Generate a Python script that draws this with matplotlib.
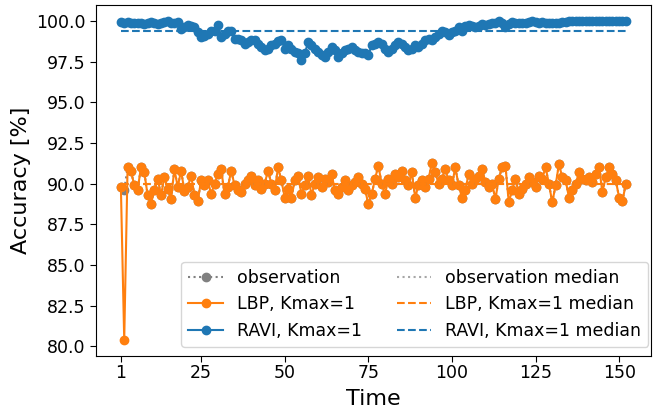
import numpy as np
import matplotlib
matplotlib.use("Agg")
import matplotlib.pyplot as plt

ravi = [99.95, 99.9, 99.95, 99.9, 99.85, 99.9, 99.85, 99.8, 99.9, 99.95, 99.85, 99.8, 99.85, 99.95, 100.0, 99.9, 99.85, 99.95, 99.5, 99.6,
        99.75, 99.7, 99.6, 99.3, 99.0, 99.1, 99.2, 99.35, 99.4, 99.75, 99.0, 99.2, 99.4, 99.4, 98.9, 98.9, 98.8, 98.6, 98.7, 98.85,
        98.8, 98.6, 98.4, 98.2, 98.3, 98.5, 98.6, 98.75, 98.8, 98.3, 98.5, 98.3, 98.1, 98.0, 97.6, 98.0, 98.7, 98.5, 98.3, 98.1,
        97.9, 97.8, 98.1, 98.4, 98.2, 97.8, 98.0, 98.2, 98.3, 98.4, 98.2, 98.1, 98.0, 98.0, 97.9, 98.5, 98.6, 98.7, 98.6, 98.3,
        98.1, 98.3, 98.5, 98.7, 98.6, 98.4, 98.2, 98.3, 98.5, 98.4, 98.6, 98.8, 98.9, 98.85, 99.0, 99.2, 99.4, 99.3, 99.15, 99.3,
        99.35, 99.65, 99.4, 99.7, 99.75, 99.7, 99.65, 99.7, 99.8, 99.75, 99.8, 99.85, 99.9, 100.0, 99.85, 99.65, 99.8, 99.95, 99.9, 99.85,
        99.85, 99.9, 99.95, 100.0, 99.95, 99.9, 99.95, 99.9, 99.85, 99.85, 99.85, 99.9, 99.95, 99.95, 100.0, 100.0, 100.0, 100.0, 100.0, 100.0,
        100.0, 100.0, 100.0, 100.0, 100.0, 100.0, 100.0, 100.0, 100.0, 100.0, 100.0, 100.0]

lbp = [89.8, 80.4, 91.0, 90.8, 89.9, 89.6, 91.0, 90.7, 89.3, 88.75,
       89.6, 90.3, 89.3, 90.4, 89.7, 89.05, 90.9, 89.8, 90.8, 89.55,
       89.8, 90.5, 89.3, 88.95, 90.2, 89.9, 90.2, 89.35, 90.0, 90.6,
       90.9, 89.35, 89.8, 90.8, 89.9, 89.6, 89.5, 90.0, 90.2, 90.5,
       89.9, 90.2, 89.7, 90.0, 90.8, 90.0, 89.6, 91.0, 90.2, 89.15,
       89.7, 89.15, 90.2, 90.5, 89.35, 89.9, 90.5, 89.3, 90.0, 90.4,
       89.8, 90.3, 90.1, 90.6, 89.6, 89.35, 89.8, 90.2, 89.6, 89.9,
       90.1, 90.4, 90.0, 89.67, 88.75, 89.35, 90.3, 91.1, 90.0, 89.35,
       90.3, 90.0, 90.6, 90.4, 90.8, 90.2, 89.9, 90.7, 89.15, 89.9,
       90.2, 89.8, 90.3, 91.25, 90.7, 90.0, 90.3, 90.9, 90.2, 89.9,
       91.0, 89.9, 89.15, 89.6, 90.6, 90.0, 90.3, 90.5, 90.9, 90.1,
       89.8, 90.0, 89.05, 90.3, 91.0, 91.1, 88.85, 89.6, 90.3, 89.35,
       89.7, 90.0, 90.4, 90.1, 89.8, 90.5, 90.3, 91.0, 90.0, 88.85,
       89.9, 91.2, 90.4, 90.2, 89.15, 89.6, 90.0, 90.7, 90.3, 90.2,
       90.4, 90.1, 90.6, 91.0, 89.5, 90.4, 91.0, 90.6, 90.2, 89.15,
       88.95, 90.0]

observation = list(lbp)
observation[1] = 89.6

time = np.arange(1, len(lbp) + 1)
xticks = [1, 25, 50, 75, 100, 125, 150]

plt.rcParams.update({
    "font.size": 12.5,
    "xtick.major.size": 4.3,
    "ytick.major.size": 4.3,
    "xtick.major.pad": 1.2,
    "ytick.major.pad": 2.8,
})

fig = plt.figure(figsize=(6.55, 4.11), dpi=100)
ax = fig.add_axes([0.146, 0.134, 0.848, 0.854])

blue = "#1f77b4"
orange = "#ff7f0e"
gray = "gray"

ax.plot(time, observation, color=gray, linestyle=":", marker="o", markersize=6, label="observation")
ax.plot(time, lbp, color=orange, marker="o", markersize=6, label="LBP, Kmax=1")
ax.plot(time, ravi, color=blue, marker="o", markersize=6, label="RAVI, Kmax=1")

ends = [time[0], time[-1]]
ax.plot(ends, [np.median(observation)] * 2, color="gray", linestyle=":", alpha=0.7, label="observation median")
ax.plot(ends, [np.median(lbp)] * 2, color=orange, linestyle="--", label="LBP, Kmax=1 median")
ax.plot(ends, [np.median(ravi)] * 2, color=blue, linestyle="--", label="RAVI, Kmax=1 median")

ax.set_xticks(xticks)
ax.set_xlabel("Time", fontsize=16, labelpad=5)
ax.set_ylabel("Accuracy [%]", fontsize=16, labelpad=4)
ax.legend(ncol=2, loc="lower right", bbox_to_anchor=(0.9946, 0.0256), borderaxespad=0)

fig.savefig("out.png", dpi=100)
